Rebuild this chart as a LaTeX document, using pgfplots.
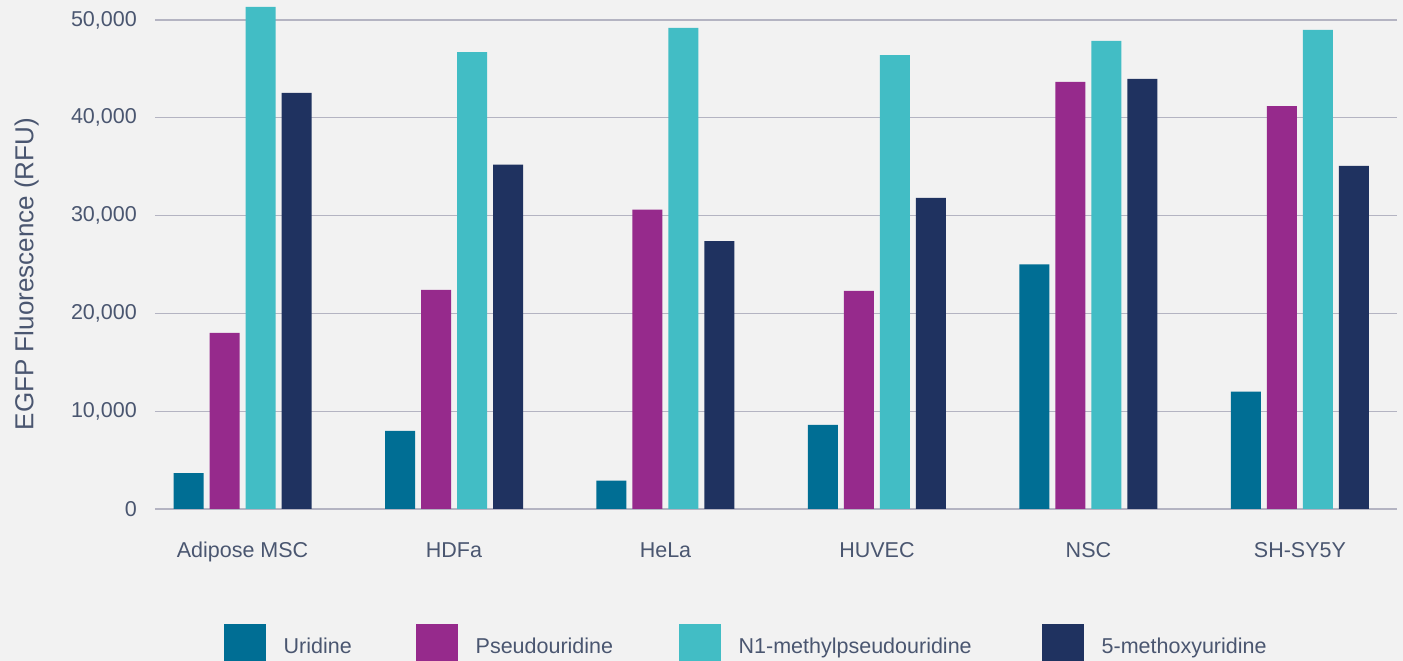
\documentclass[border=0pt]{standalone}
\usepackage{fontspec}
\setmainfont{Liberation Sans}
\usepackage{pgfplots}
\pgfplotsset{compat=1.18}
\definecolor{bgc}{HTML}{F2F2F2}
\definecolor{txt}{HTML}{4A5670}
\definecolor{gridc}{HTML}{B4B4C2}
\definecolor{cU}{HTML}{006E94}
\definecolor{cP}{HTML}{962A8C}
\definecolor{cN}{HTML}{42BDC5}
\definecolor{cM}{HTML}{1F3260}
\begin{document}
\begin{tikzpicture}
\useasboundingbox (0,0) rectangle (1403pt,661pt);
\fill[bgc] (0,0) rectangle (1403pt,661pt);
\begin{axis}[
  at={(155pt,152pt)}, anchor=south west,
  scale only axis, width=1242pt, height=508.6pt,
  xmin=-0.414, xmax=5.459, ymin=0, ymax=52000,
  ybar=6pt, bar width=30pt,
  axis line style={draw=none}, tick style={draw=none},
  ymajorgrids, major grid style={color=gridc, line width=1.2pt},
  xtick={0,1,2,3,4,5},
  xticklabels={Adipose MSC,HDFa,HeLa,HUVEC,NSC,SH-SY5Y},
  ytick={0,10000,20000,30000,40000,50000},
  scaled y ticks=false,
  /pgf/number format/.cd, 1000 sep={,}, assume math mode=true, /pgfplots/.cd,
  xticklabel style={anchor=base, yshift=-44pt, inner sep=0pt, font=\fontsize{21.5pt}{26pt}\selectfont, text=txt},
  yticklabel style={anchor=east, xshift=-18pt, inner sep=0pt, font=\fontsize{21.5pt}{26pt}\selectfont, text=txt},
  ylabel={EGFP Fluorescence (RFU)},
  ylabel style={at={(axis description cs:-0.098,0.462)}, anchor=base, rotate=0, inner sep=0pt, font=\fontsize{26pt}{30pt}\selectfont, text=txt},
  legend columns=4,
  legend image code/.code={\fill[#1] (0pt,-12pt) rectangle (42pt,30pt); \path (60pt,0pt);},
  legend style={at={(axis description cs:0.0553,-0.2261)}, anchor=north west, draw=none, fill=none, inner sep=0pt, outer sep=0pt, column sep=0pt, row sep=0pt,
    nodes={inner sep=0pt, outer sep=0pt, anchor=base west, font=\fontsize{21.5pt}{26pt}\selectfont, text=txt}},
]
\addplot[fill=cU, draw=none] coordinates {(0,3680) (1,7980) (2,2900) (3,8600) (4,25000) (5,12000)};
\addlegendentry[text width=132pt]{Uridine}
\addplot[fill=cP, draw=none] coordinates {(0,18000) (1,22400) (2,30600) (3,22300) (4,43660) (5,41200)};
\addlegendentry[text width=203pt]{Pseudouridine}
\addplot[fill=cN, draw=none] coordinates {(0,51330) (1,46700) (2,49200) (3,46400) (4,47850) (5,48980)};
\addlegendentry[text width=303pt]{N1-methylpseudouridine}
\addplot[fill=cM, draw=none] coordinates {(0,42540) (1,35200) (2,27400) (3,31800) (4,43970) (5,35070)};
\addlegendentry[text width=200pt]{5-methoxyuridine}
\end{axis}
\end{tikzpicture}
\end{document}
